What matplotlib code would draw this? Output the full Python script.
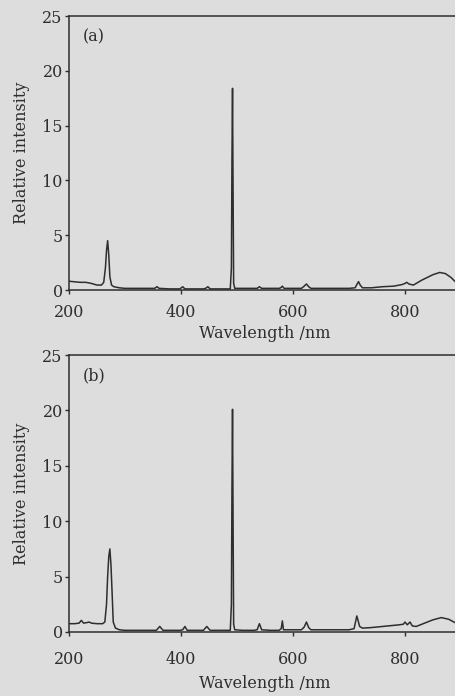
import matplotlib
matplotlib.use("Agg")
import matplotlib.pyplot as plt

# ---- data ----
a_wl = [200, 210, 220, 230, 240, 250, 258, 262, 265, 267, 269, 271, 273, 276, 280,
        290, 300, 320, 340, 353, 357, 361, 380, 398, 403, 407, 420, 440, 444, 448, 452,
        470, 488, 490, 491, 492, 493, 494, 496, 510, 530, 536, 540, 544, 560, 575,
        578, 581, 584, 600, 615, 620, 624, 628, 632, 650, 680, 700, 711, 714, 717,
        720, 724, 740, 760, 780, 795, 800, 803, 807, 815, 830, 850, 862, 872, 882, 891, 900]
a_int = [0.8, 0.75, 0.7, 0.7, 0.6, 0.45, 0.45, 0.7, 2.0, 3.6, 4.5, 3.2, 1.2, 0.45, 0.3,
         0.2, 0.15, 0.15, 0.15, 0.15, 0.3, 0.15, 0.1, 0.1, 0.3, 0.1, 0.1, 0.1, 0.15, 0.3, 0.1,
         0.1, 0.1, 2.0, 12.0, 18.4, 9.0, 0.6, 0.15, 0.15, 0.15, 0.15, 0.3, 0.15, 0.15, 0.15,
         0.2, 0.35, 0.15, 0.15, 0.15, 0.35, 0.55, 0.3, 0.15, 0.15, 0.15, 0.15, 0.2, 0.5, 0.76,
         0.45, 0.2, 0.2, 0.3, 0.35, 0.5, 0.6, 0.7, 0.55, 0.45, 0.9, 1.4, 1.6, 1.5, 1.15, 0.7, 0.5]

b_wl = [200, 210, 218, 222, 226, 232, 236, 240, 250, 260, 264, 267, 269, 271, 273, 275,
        277, 279, 283, 290, 300, 320, 340, 356, 362, 368, 380, 398, 403, 407, 411, 420,
        440, 446, 452, 470, 488, 490, 491, 492, 493, 494, 496, 510, 530, 536, 540, 544,
        560, 575, 579, 581, 583, 600, 615, 620, 624, 628, 632, 650, 680, 700, 709, 714,
        719, 724, 740, 750, 770, 790, 797, 800, 804, 809, 813, 820, 835, 850, 865, 878, 891, 900]
b_int = [0.75, 0.75, 0.8, 1.05, 0.8, 0.85, 0.9, 0.8, 0.75, 0.75, 0.9, 2.5, 5.0, 6.8, 7.5, 6.0,
         3.5, 0.9, 0.35, 0.2, 0.15, 0.15, 0.15, 0.15, 0.5, 0.15, 0.15, 0.15, 0.2, 0.5, 0.15, 0.15,
         0.15, 0.5, 0.15, 0.15, 0.15, 2.5, 13.0, 20.1, 10.0, 0.7, 0.2, 0.15, 0.15, 0.2, 0.75, 0.2,
         0.15, 0.15, 0.3, 1.0, 0.2, 0.2, 0.2, 0.45, 0.9, 0.4, 0.2, 0.2, 0.2, 0.2, 0.3, 1.45,
         0.5, 0.35, 0.4, 0.45, 0.55, 0.65, 0.7, 0.9, 0.65, 0.9, 0.55, 0.5, 0.8, 1.1, 1.3, 1.15, 0.8, 0.6]

x_ticks = [200, 400, 600, 800]
y_ticks = [0, 5, 10, 15, 20, 25]
panel_labels = ["(a)", "(b)"]
xlabel = "Wavelength /nm"
ylabel = "Relative intensity"

# ---- style ----
bg = "#dddddd"
ink = "#2e2e2e"
plt.rcParams["font.family"] = ["DejaVu Serif"]
plt.rcParams["font.size"] = 11

fig = plt.figure(figsize=(4.56, 6.96), dpi=100, facecolor=bg)
W, H = 456.0, 696.0
left_px, right_px = 69, 461
panels = [(16, 290), (355, 632)]
xtick_pads = [7.0, 11.0]
xlabel_pads = [3.0, 4.5]
series = [(a_wl, a_int), (b_wl, b_int)]

for (top_px, bot_px), (wl, it), lab, xp, lp in zip(panels, series, panel_labels,
                                                   xtick_pads, xlabel_pads):
    ax = fig.add_axes([left_px / W, 1 - bot_px / H,
                       (right_px - left_px) / W, (bot_px - top_px) / H])
    ax.set_facecolor(bg)
    ax.plot(wl, it, color=ink, lw=1.1)
    ax.set_xlim(200, 900)
    ax.set_ylim(0, 25)
    ax.set_xticks(x_ticks)
    ax.set_yticks(y_ticks)
    ax.tick_params(direction="out", length=3, width=1, colors=ink, labelcolor=ink,
                   labelsize=11.5)
    ax.tick_params(axis="x", pad=xp)
    ax.tick_params(axis="y", pad=1.5)
    for s in ax.spines.values():
        s.set_color(ink)
        s.set_linewidth(1.1)
    ax.set_xlabel(xlabel, color=ink, fontsize=11.5, labelpad=lp)
    ax.set_ylabel(ylabel, color=ink, fontsize=11.5, labelpad=9)
    ax.text(0.035, 0.955, lab, transform=ax.transAxes, ha="left", va="top",
            color=ink, fontsize=11.5)

fig.savefig("out.png", dpi=100, facecolor=bg)
